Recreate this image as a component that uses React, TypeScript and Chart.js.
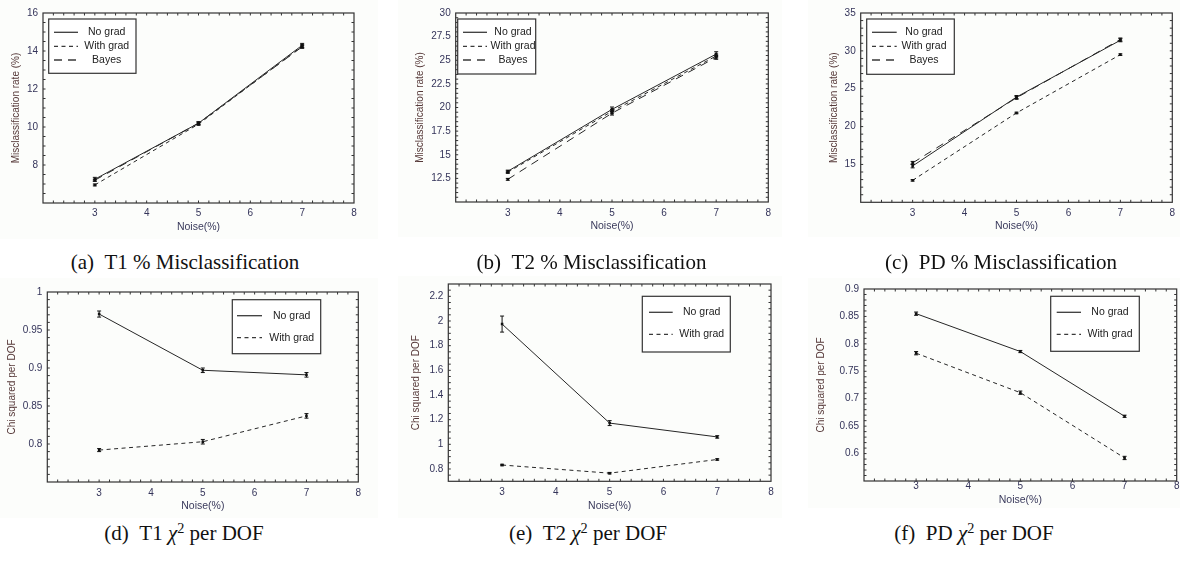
import React, { useEffect, useRef } from "react";
import { Chart, registerables } from "chart.js";
Chart.register(...registerables);

// ---------- data ----------
const noise = [3, 5, 7];
const xTickLabels = [3, 4, 5, 6, 7, 8];

// (a) T1 % misclassification
const aNoGrad = [7.25, 10.2, 14.3];
const aWithGrad = [6.95, 10.15, 14.25];
const aBayes = [7.2, 10.2, 14.22];
const aNoGradErr = [0.1, 0.08, 0.1];
const aWithGradErr = [0.05, 0.06, 0.08];
const aBayesErr = [0.05, 0.06, 0.08];
const aYTicks = [8, 10, 12, 14, 16];

// (b) T2 % misclassification
const bNoGrad = [13.25, 19.8, 25.65];
const bWithGrad = [13.15, 19.6, 25.45];
const bBayes = [12.4, 19.4, 25.3];
const bNoGradErr = [0.12, 0.25, 0.25];
const bWithGradErr = [0.12, 0.2, 0.2];
const bBayesErr = [0.1, 0.2, 0.2];
const bYTicks = [12.5, 15, 17.5, 20, 22.5, 25, 27.5, 30];

// (c) PD % misclassification
const cNoGrad = [14.8, 23.9, 31.4];
const cWithGrad = [12.9, 21.8, 29.5];
const cBayes = [15.2, 23.8, 31.5];
const cNoGradErr = [0.25, 0.2, 0.2];
const cWithGradErr = [0.1, 0.1, 0.1];
const cBayesErr = [0.2, 0.2, 0.2];
const cYTicks = [15, 20, 25, 30, 35];

// (d) T1 chi^2 per DOF
const dNoGrad = [0.971, 0.897, 0.891];
const dWithGrad = [0.792, 0.803, 0.837];
const dNoGradErr = [0.004, 0.003, 0.003];
const dWithGradErr = [0.002, 0.003, 0.003];
const dYTicks = [0.8, 0.85, 0.9, 0.95, 1];

// (e) T2 chi^2 per DOF
const eNoGrad = [1.975, 1.172, 1.06];
const eWithGrad = [0.832, 0.766, 0.877];
const eNoGradErr = [0.065, 0.02, 0.01];
const eWithGradErr = [0.006, 0.006, 0.006];
const eYTicks = [0.8, 1, 1.2, 1.4, 1.6, 1.8, 2, 2.2];

// (f) PD chi^2 per DOF
const fNoGrad = [0.855, 0.786, 0.668];
const fWithGrad = [0.783, 0.711, 0.592];
const fNoGradErr = [0.003, 0.002, 0.002];
const fWithGradErr = [0.003, 0.003, 0.003];
const fYTicks = [0.6, 0.65, 0.7, 0.75, 0.8, 0.85, 0.9];

const labelNoGrad = "No grad";
const labelWithGrad = "With grad";
const labelBayes = "Bayes";

// ---------- styles ----------
const SANS = '"Liberation Sans", Arial, sans-serif';
const SERIF = '"Liberation Serif", "Times New Roman", serif';
const TICK_COLOR = "#34345a";
const YTITLE_COLOR = "#553838";
const XTITLE_COLOR = "#3a3a5c";
const LINE_COLOR = "#262626";
const DASH_SOLID: number[] = [];
const DASH_SHORT = [4, 3.5];
const DASH_LONG = [8, 6];

type Series = { label: string; values: number[]; errors: number[]; dash: number[] };
type Panel = {
  id: string;
  caption: React.ReactNode;
  capX: number;
  capY: number;
  series: Series[];
  yMin: number;
  yMax: number;
  yTicks: number[];
  yMinor: number;
  yTitle: string;
  plot: { left: number; top: number; right: number; bottom: number };
  L: number;
  B: number;
  xPad: number;
  legend: { dx: number; dy: number; w: number; h: number; rows: number[]; s0: number; s1: number; tx: number };
  bg: { left: number; top: number; width: number; height: number };
};

const rows3 = [13.3, 27.3, 41];
const rows2 = [16, 38];

const chi = (prefix: string, name: string) => (
  <>
    {prefix}
    {"\u00a0\u00a0"}
    {name} <i>χ</i>
    <sup style={{ fontSize: "0.68em", lineHeight: 0, verticalAlign: "0.5em" }}>2</sup> per DOF
  </>
);

const panels: Panel[] = [
  {
    id: "a",
    caption: <>(a){"\u00a0\u00a0"}T1 % Misclassification</>,
    capX: 185, capY: 270,
    series: [
      { label: labelNoGrad, values: aNoGrad, errors: aNoGradErr, dash: DASH_SOLID },
      { label: labelWithGrad, values: aWithGrad, errors: aWithGradErr, dash: DASH_SHORT },
      { label: labelBayes, values: aBayes, errors: aBayesErr, dash: DASH_LONG },
    ],
    yMin: 6, yMax: 16, yTicks: aYTicks, yMinor: 0.5,
    yTitle: "Misclassification rate (%)",
    plot: { left: 43, top: 10.7, right: 354, bottom: 203 },
    L: 33, B: 29.7, xPad: 4.7,
    legend: { dx: 5.7, dy: 6, w: 87.3, h: 54.3, rows: rows3, s0: 5.3, s1: 29.3, tx: 58 },
    bg: { left: 0, top: 0, width: 378, height: 239 },
  },
  {
    id: "b",
    caption: <>(b){"\u00a0\u00a0"}T2 % Misclassification</>,
    capX: 591.5, capY: 270,
    series: [
      { label: labelNoGrad, values: bNoGrad, errors: bNoGradErr, dash: DASH_SOLID },
      { label: labelWithGrad, values: bWithGrad, errors: bWithGradErr, dash: DASH_SHORT },
      { label: labelBayes, values: bBayes, errors: bBayesErr, dash: DASH_LONG },
    ],
    yMin: 10, yMax: 30, yTicks: bYTicks, yMinor: 0.5,
    yTitle: "Misclassification rate (%)",
    plot: { left: 455.7, top: 10, right: 768.3, bottom: 202 },
    L: 41.7, B: 30, xPad: 5.7,
    legend: { dx: 2, dy: 6, w: 78, h: 55, rows: rows3, s0: 5.3, s1: 29.3, tx: 55.3 },
    bg: { left: 398, top: 0, width: 384, height: 237 },
  },
  {
    id: "c",
    caption: <>(c){"\u00a0\u00a0"}PD % Misclassification</>,
    capX: 1001, capY: 270,
    series: [
      { label: labelNoGrad, values: cNoGrad, errors: cNoGradErr, dash: DASH_SOLID },
      { label: labelWithGrad, values: cWithGrad, errors: cWithGradErr, dash: DASH_SHORT },
      { label: labelBayes, values: cBayes, errors: cBayesErr, dash: DASH_LONG },
    ],
    yMin: 10, yMax: 35, yTicks: cYTicks, yMinor: 1,
    yTitle: "Misclassification rate (%)",
    plot: { left: 860.7, top: 10, right: 1172.3, bottom: 202.3 },
    L: 32.4, B: 29.7, xPad: 5,
    legend: { dx: 6, dy: 6, w: 87.6, h: 55.3, rows: rows3, s0: 5.3, s1: 30, tx: 57.3 },
    bg: { left: 808, top: 0, width: 372, height: 237 },
  },
  {
    id: "d",
    caption: chi("(d)", "T1"),
    capX: 184, capY: 541,
    series: [
      { label: labelNoGrad, values: dNoGrad, errors: dNoGradErr, dash: DASH_SOLID },
      { label: labelWithGrad, values: dWithGrad, errors: dWithGradErr, dash: DASH_SHORT },
    ],
    yMin: 0.75, yMax: 1, yTicks: dYTicks, yMinor: 0.01,
    yTitle: "Chi squared per DOF",
    plot: { left: 47.3, top: 289, right: 358.3, bottom: 482 },
    L: 40.6, B: 29.7, xPad: 4.8,
    legend: { dx: 185, dy: 7.7, w: 88.4, h: 54, rows: rows2, s0: 4.7, s1: 29.7, tx: 59.4 },
    bg: { left: 0, top: 278, width: 378, height: 240 },
  },
  {
    id: "e",
    caption: chi("(e)", "T2"),
    capX: 588, capY: 541,
    series: [
      { label: labelNoGrad, values: eNoGrad, errors: eNoGradErr, dash: DASH_SOLID },
      { label: labelWithGrad, values: eWithGrad, errors: eWithGradErr, dash: DASH_SHORT },
    ],
    yMin: 0.7, yMax: 2.3, yTicks: eYTicks, yMinor: 0.05,
    yTitle: "Chi squared per DOF",
    plot: { left: 448.3, top: 281.7, right: 771, bottom: 481.3 },
    L: 37.6, B: 30.7, xPad: 5.3,
    legend: { dx: 194, dy: 12.3, w: 88, h: 55.7, rows: rows2, s0: 6.7, s1: 30.4, tx: 59.4 },
    bg: { left: 398, top: 276, width: 384, height: 242 },
  },
  {
    id: "f",
    caption: chi("(f)", "PD"),
    capX: 974, capY: 541,
    series: [
      { label: labelNoGrad, values: fNoGrad, errors: fNoGradErr, dash: DASH_SOLID },
      { label: labelWithGrad, values: fWithGrad, errors: fWithGradErr, dash: DASH_SHORT },
    ],
    yMin: 0.55, yMax: 0.9, yTicks: fYTicks, yMinor: 0.01,
    yTitle: "Chi squared per DOF",
    plot: { left: 864, top: 286.7, right: 1176.7, bottom: 481 },
    L: 49, B: 25, xPad: -1,
    legend: { dx: 186.7, dy: 7.3, w: 88.6, h: 55, rows: rows2, s0: 6, s1: 30.3, tx: 59.3 },
    bg: { left: 808, top: 278, width: 372, height: 230 },
  },
];

const X_MIN = 2;
const X_MAX = 8;
const X_MINOR = 0.2;
const T_PAD = 8;
const R_PAD = 10;

function PanelChart({ p }: { p: Panel }) {
  const ref = useRef<HTMLCanvasElement>(null);
  const plotW = p.plot.right - p.plot.left;
  const plotH = p.plot.bottom - p.plot.top;
  const cl = Math.floor(p.plot.left - p.L);
  const Lr = p.plot.left - cl;
  const ct = Math.floor(p.plot.top - T_PAD);
  const Tr = p.plot.top - ct;
  const cw = Math.ceil(Lr + plotW + R_PAD);
  const Rr = cw - Lr - plotW;
  const ch = Math.ceil(Tr + plotH + p.B);
  const Br = ch - Tr - plotH;

  useEffect(() => {
    const decor = {
      id: "decor" + p.id,
      afterDatasetsDraw(chart: any) {
        const ctx = chart.ctx;
        const xs = chart.scales.x;
        const ys = chart.scales.y;
        ctx.save();
        ctx.strokeStyle = "#111";
        ctx.lineWidth = 1;
        ctx.setLineDash([]);
        p.series.forEach((s) => {
          s.values.forEach((v, i) => {
            const e = s.errors[i];
            const px = xs.getPixelForValue(noise[i]);
            const y1 = ys.getPixelForValue(v - e);
            const y2 = ys.getPixelForValue(v + e);
            ctx.beginPath();
            ctx.moveTo(px, y1);
            ctx.lineTo(px, y2);
            ctx.moveTo(px - 2, y1);
            ctx.lineTo(px + 2, y1);
            ctx.moveTo(px - 2, y2);
            ctx.lineTo(px + 2, y2);
            ctx.stroke();
          });
        });
        ctx.restore();
      },
      afterDraw(chart: any) {
        const ctx = chart.ctx;
        const a = chart.chartArea;
        const xs = chart.scales.x;
        const ys = chart.scales.y;
        ctx.save();
        ctx.setLineDash([]);
        ctx.strokeStyle = "#333";
        ctx.lineWidth = 1.2;
        ctx.strokeRect(a.left, a.top, a.right - a.left, a.bottom - a.top);
        ctx.lineWidth = 1;
        ctx.beginPath();
        const tl = 2.5;
        const nx = Math.round((X_MAX - X_MIN) / X_MINOR);
        for (let k = 1; k < nx; k++) {
          const px = xs.getPixelForValue(X_MIN + k * X_MINOR);
          ctx.moveTo(px, a.bottom);
          ctx.lineTo(px, a.bottom - tl);
          ctx.moveTo(px, a.top);
          ctx.lineTo(px, a.top + tl);
        }
        const ny = Math.round((p.yMax - p.yMin) / p.yMinor);
        for (let k = 1; k < ny; k++) {
          const py = ys.getPixelForValue(p.yMin + k * p.yMinor);
          ctx.moveTo(a.left, py);
          ctx.lineTo(a.left + tl, py);
          ctx.moveTo(a.right, py);
          ctx.lineTo(a.right - tl, py);
        }
        ctx.stroke();
        const lg = p.legend;
        const bx = a.left + lg.dx;
        const by = a.top + lg.dy;
        ctx.fillStyle = "#fff";
        ctx.fillRect(bx, by, lg.w, lg.h);
        ctx.strokeStyle = "#333";
        ctx.lineWidth = 1.2;
        ctx.strokeRect(bx, by, lg.w, lg.h);
        ctx.font = `10.5px ${SANS}`;
        ctx.textAlign = "center";
        ctx.textBaseline = "middle";
        p.series.forEach((s, i) => {
          const ry = by + lg.rows[i];
          ctx.strokeStyle = "#3a3a3a";
          ctx.lineWidth = 1.3;
          ctx.setLineDash(s.dash);
          ctx.beginPath();
          ctx.moveTo(bx + lg.s0, ry);
          ctx.lineTo(bx + lg.s1, ry);
          ctx.stroke();
          ctx.setLineDash([]);
          ctx.fillStyle = "#222";
          ctx.fillText(s.label, bx + lg.tx, ry);
        });
        ctx.restore();
      },
    };

    const chart = new Chart(ref.current as HTMLCanvasElement, {
      type: "line",
      data: {
        datasets: p.series.map((s) => ({
          label: s.label,
          data: s.values.map((v, i) => ({ x: noise[i], y: v })),
          borderColor: LINE_COLOR,
          backgroundColor: "#111",
          borderWidth: 1,
          borderDash: s.dash,
          pointStyle: "rect",
          pointRadius: 1.8,
          pointBorderWidth: 0,
          pointBackgroundColor: "#111",
          tension: 0,
          fill: false,
        })),
      },
      options: {
        animation: false,
        responsive: false,
        devicePixelRatio: 1,
        layout: { padding: { top: Tr, right: Rr, left: 0, bottom: 0 } },
        plugins: { legend: { display: false }, tooltip: { enabled: false } },
        scales: {
          x: {
            type: "linear",
            min: X_MIN,
            max: X_MAX,
            grid: { display: false, drawTicks: false },
            border: { display: false },
            afterBuildTicks: (s: any) => {
              s.ticks = xTickLabels.map((v) => ({ value: v }));
            },
            afterFit: (s: any) => {
              s.height = Br;
            },
            ticks: {
              padding: p.xPad,
              color: TICK_COLOR,
              font: { family: SANS, size: 10 },
              maxRotation: 0,
              autoSkip: false,
              callback: (v: any) => String(v),
            },
            title: {
              display: true,
              text: "Noise(%)",
              color: XTITLE_COLOR,
              font: { family: SANS, size: 10.5 },
              padding: 0,
            },
          },
          y: {
            type: "linear",
            min: p.yMin,
            max: p.yMax,
            grid: { display: false, drawTicks: false },
            border: { display: false },
            afterBuildTicks: (s: any) => {
              s.ticks = p.yTicks.map((v) => ({ value: v }));
            },
            afterFit: (s: any) => {
              s.width = Lr;
            },
            ticks: {
              padding: 5,
              color: TICK_COLOR,
              font: { family: SANS, size: 10 },
              autoSkip: false,
              callback: (v: any) => String(v),
            },
            title: {
              display: true,
              text: p.yTitle,
              color: YTITLE_COLOR,
              font: { family: SANS, size: 10 },
              padding: 0,
            },
          },
        },
      } as any,
      plugins: [decor],
    });
    return () => chart.destroy();
  }, []);

  return (
    <canvas
      ref={ref}
      width={cw}
      height={ch}
      style={{ position: "absolute", left: cl, top: ct, width: cw, height: ch }}
    />
  );
}

export default function App() {
  return (
    <div
      style={{
        position: "absolute",
        left: 0,
        top: 0,
        width: 1185,
        height: 561,
        background: "#fff",
        overflow: "hidden",
      }}
    >
      {panels.map((p) => (
        <div
          key={"bg" + p.id}
          style={{
            position: "absolute",
            left: p.bg.left,
            top: p.bg.top,
            width: p.bg.width,
            height: p.bg.height,
            background: "#fcfdfb",
          }}
        />
      ))}
      {panels.map((p) => (
        <PanelChart key={p.id} p={p} />
      ))}
      {panels.map((p) => (
        <div
          key={"cap" + p.id}
          style={{
            position: "absolute",
            left: p.capX - 200,
            top: p.capY - 17.6,
            width: 400,
            textAlign: "center",
            fontFamily: SERIF,
            fontSize: 21,
            lineHeight: "21px",
            color: "#111",
            whiteSpace: "nowrap",
          }}
        >
          {p.caption}
        </div>
      ))}
    </div>
  );
}
